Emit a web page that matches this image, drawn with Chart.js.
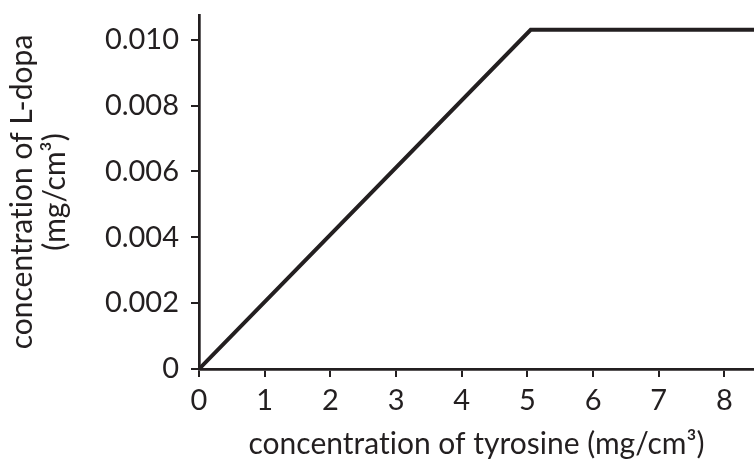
<!DOCTYPE html>
<html>
<head>
<meta charset="utf-8">
<script src="https://cdn.jsdelivr.net/npm/chart.js@4"></script>
<style>
  html, body { margin: 0; padding: 0; background: #fff; }
  #wrap { width: 754px; height: 464px; }
</style>
</head>
<body>
<div id="wrap"><canvas id="chart"></canvas></div>
<script>
// data
var tyrosine = [0, 5.05, 8.45];
var ldopa = [0, 0.0103, 0.0103];
var xTicks = [0, 1, 2, 3, 4, 5, 6, 7, 8];
var yTicks = [0, 0.002, 0.004, 0.006, 0.008, 0.010];

var FONT = "Lato";
var ink = "#231f20";
// zero width non-joiner keeps Lato from joining "ti" into a ligature
var ZW = "\u200C";

var points = [];
for (var i = 0; i < tyrosine.length; i++) {
  points.push({x: tyrosine[i], y: ldopa[i]});
}

var ctx = document.getElementById("chart").getContext("2d");
var chart = new Chart(ctx, {
  type: "line",
  data: {
    datasets: [{
      data: points,
      borderColor: ink,
      borderWidth: 4,
      pointRadius: 0,
      tension: 0,
      fill: false
    }]
  },
  options: {
    responsive: true,
    maintainAspectRatio: false,
    animation: false,
    layout: { padding: { top: 15, right: 0, left: 0, bottom: 0 } },
    plugins: { legend: { display: false }, tooltip: { enabled: false } },
    scales: {
      x: {
        type: "linear",
        min: 0,
        max: 8.45,
        afterBuildTicks: function(scale) {
          scale.ticks = xTicks.map(function(v) { return {value: v}; });
        },
        afterFit: function(scale) { scale.height = 95; },
        border: { display: true, color: ink, width: 2.7 },
        grid: { drawOnChartArea: false, drawTicks: true, tickLength: 8, color: ink, lineWidth: 2 },
        ticks: { color: ink, font: { family: FONT, size: 29 }, padding: 6, maxRotation: 0 },
        title: {
          display: true,
          text: "concentrat" + ZW + "ion of tyrosine (mg/cm³)",
          color: ink,
          font: { family: FONT, size: 30 },
          padding: { top: 0, bottom: 2 }
        }
      },
      y: {
        type: "linear",
        min: 0,
        max: 0.01075,
        afterBuildTicks: function(scale) {
          scale.ticks = yTicks.map(function(v) { return {value: v}; });
        },
        afterFit: function(scale) {
          scale.width = 199;
          // top label sits well below the axis end, no extra room needed
          scale.paddingTop = 0;
          scale.paddingBottom = 0;
        },
        border: { display: true, color: ink, width: 2.7 },
        grid: { drawOnChartArea: false, drawTicks: true, tickLength: 8, color: ink, lineWidth: 2 },
        ticks: {
          color: ink,
          font: { family: FONT, size: 29 },
          padding: 12,
          callback: function(v) { return v === 0 ? "0" : v.toFixed(3); }
        },
        title: {
          display: true,
          text: ["concentrat" + ZW + "ion of L-dopa", "(mg/cm³)"],
          color: ink,
          font: { family: FONT, size: 30, lineHeight: 1.1 },
          padding: { top: 6, bottom: 0 }
        }
      }
    }
  }
});
</script>
</body>
</html>
